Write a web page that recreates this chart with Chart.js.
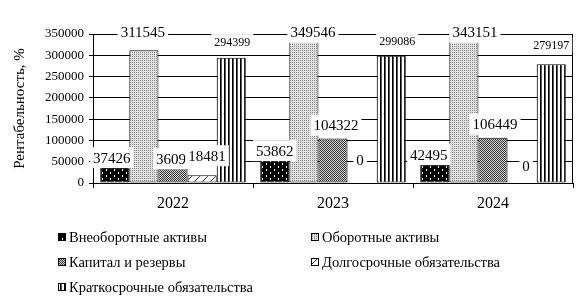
<!DOCTYPE html>
<html>
<head>
<meta charset="utf-8">
<script src="https://cdn.jsdelivr.net/npm/chart.js@4"></script>
<style>
  html, body { margin: 0; padding: 0; background: #fff; }
  #wrap { width: 580px; height: 301px; }
</style>
</head>
<body>
<div id="wrap"><canvas id="balance" width="580" height="301"></canvas></div>
<script>
const years = ['2022', '2023', '2024'];
const seriesNames = [
    'Внеоборотные активы',
    'Оборотные активы',
    'Капитал и резервы',
    'Долгосрочные обязательства',
    'Краткосрочные обязательства'
];
const vneoborotnye = [37426, 53862, 42495];
const oborotnye = [311545, 349546, 343151];
const kapital = [34000, 104322, 106449];
const dolgosrochnye = [18481, 0, 0];
const kratkosrochnye = [294399, 299086, 279197];
// text shown in the labels (the 2022 capital label reads "3609" in the picture)
const kapitalText = ['3609', '104322', '106449'];
const yStep = 50000;
const yMax = 350000;

const serif = "'Liberation Serif', 'Times New Roman', serif";

// label placement: [dx from bar centre, level in axis units]
const labelPlace = [
    [[-3, 59600], [0, 76000], [-6, 66500]],
    [[-1, 354000], [9, 354000], [11, 354000]],
    [[-2, 57000], [3, 136000], [2, 138000]],
    [[5, 64000], [-2, 55000], [4, 39000]],
    [[1, 331000], [6, 333000], [0, 324000]]
];

function tile(w, h, paint) {
    const c = document.createElement('canvas');
    c.width = w; c.height = h;
    const g = c.getContext('2d');
    paint(g);
    return document.getElementById('balance').getContext('2d').createPattern(c, 'repeat');
}

const patterns = [
    tile(8, 6, g => {
        g.fillStyle = '#000'; g.fillRect(0, 0, 8, 6);
        g.fillStyle = '#fff';
        g.fillRect(2, 1, 1, 2);
        g.fillRect(6, 4, 1, 2);
    }),
    tile(2, 2, g => {
        g.fillStyle = '#e0e0e0'; g.fillRect(0, 0, 2, 2);
        g.fillStyle = '#8a8a8a'; g.fillRect(0, 0, 1, 1);
    }),
    tile(2, 2, g => {
        g.fillStyle = '#c8c8c8'; g.fillRect(0, 0, 2, 2);
        g.fillStyle = '#404040'; g.fillRect(0, 0, 1, 1); g.fillRect(1, 1, 1, 1);
    }),
    tile(8, 8, g => {
        g.fillStyle = '#fff'; g.fillRect(0, 0, 8, 8);
        g.strokeStyle = '#333'; g.lineWidth = 1;
        g.beginPath(); g.moveTo(0, 8); g.lineTo(8, 0); g.stroke();
    }),
    tile(4, 1, g => {
        g.fillStyle = '#fff'; g.fillRect(0, 0, 4, 1);
        g.fillStyle = '#000'; g.fillRect(0, 0, 1, 1);
        g.fillStyle = '#555'; g.fillRect(1, 0, 1, 1);
    })
];

const seriesValues = [vneoborotnye, oborotnye, kapital, dolgosrochnye, kratkosrochnye];

const valueLabels = {
    id: 'valueLabels',
    afterDatasetsDraw(chart) {
        const ctx = chart.ctx;
        const y = chart.scales.y;
        ctx.save();
        chart.data.datasets.forEach((ds, i) => {
            const meta = chart.getDatasetMeta(i);
            const small = i === 4;
            ctx.font = (small ? 12 : 15) + 'px ' + serif;
            ctx.textAlign = 'center';
            ctx.textBaseline = 'middle';
            meta.data.forEach((bar, j) => {
                const text = i === 2 ? kapitalText[j] : String(ds.data[j]);
                const px = bar.x + labelPlace[i][j][0];
                const py = y.getPixelForValue(labelPlace[i][j][1]);
                const w = ctx.measureText(text).width + 6;
                const h = small ? 16 : 21;
                ctx.fillStyle = '#fff';
                ctx.fillRect(px - w / 2, py - h / 2, w, h);
                ctx.fillStyle = '#000';
                ctx.fillText(text, px, py + 1);
            });
        });
        ctx.restore();
    }
};

const frame = {
    id: 'frame',
    beforeDatasetsDraw(chart) {
        const a = chart.chartArea;
        const ctx = chart.ctx;
        ctx.save();
        ctx.strokeStyle = '#000';
        ctx.lineWidth = 1;
        ctx.beginPath();
        ctx.moveTo(Math.round(a.right) - 0.5, a.top);
        ctx.lineTo(Math.round(a.right) - 0.5, a.bottom);
        ctx.stroke();
        ctx.restore();
    }
};

const gridLegend = {
    id: 'gridLegend',
    afterDraw(chart) {
        const ctx = chart.ctx;
        const cols = [58, 311];
        const rows = [237, 262, 287];
        ctx.save();
        ctx.font = '14.5px ' + serif;
        ctx.textBaseline = 'middle';
        ctx.textAlign = 'left';
        chart.data.datasets.forEach((ds, i) => {
            const x = cols[i % 2];
            const yy = rows[Math.floor(i / 2)];
            ctx.fillStyle = ds.backgroundColor;
            ctx.fillRect(x, yy - 4, 8, 8);
            ctx.strokeStyle = '#000';
            ctx.lineWidth = 1;
            ctx.strokeRect(x + 0.5, yy - 3.5, 7, 7);
            ctx.fillStyle = '#000';
            ctx.fillText(ds.label, x + 11, yy + 1);
        });
        ctx.restore();
    }
};

new Chart(document.getElementById('balance'), {
    type: 'bar',
    data: {
        labels: years,
        datasets: seriesNames.map((name, i) => ({
            label: name,
            data: seriesValues[i],
            backgroundColor: patterns[i],
            borderColor: '#000',
            borderWidth: 1,
            borderSkipped: false,
            categoryPercentage: 0.91,
            barPercentage: 1
        }))
    },
    options: {
        responsive: false,
        animation: false,
        events: [],
        layout: { padding: { top: 34, right: 7, bottom: 0, left: 0 } },
        plugins: {
            legend: { display: false },
            tooltip: { enabled: false }
        },
        scales: {
            x: {
                grid: { display: true, drawOnChartArea: false, drawTicks: true, tickLength: 5, color: '#000', offset: true },
                border: { display: true, color: '#000', width: 1 },
                ticks: { color: '#000', font: { family: serif, size: 16 }, padding: 6 },
                afterFit(s) { s.height = 118; }
            },
            y: {
                min: 0,
                max: yMax,
                grid: { display: true, drawOnChartArea: true, drawTicks: true, color: '#000', lineWidth: 1, tickLength: 4 },
                border: { display: true, color: '#000', width: 1 },
                ticks: { stepSize: yStep, color: '#000', font: { family: serif, size: 13 }, padding: 5, callback: v => String(v) },
                title: {
                    display: true,
                    text: 'Рентабельность, %',
                    color: '#000',
                    font: { family: serif, size: 15 },
                    padding: { top: 11, bottom: 0 }
                },
                afterFit(s) { s.width = 93; }
            }
        }
    },
    plugins: [frame, valueLabels, gridLegend]
});
</script>
</body>
</html>
